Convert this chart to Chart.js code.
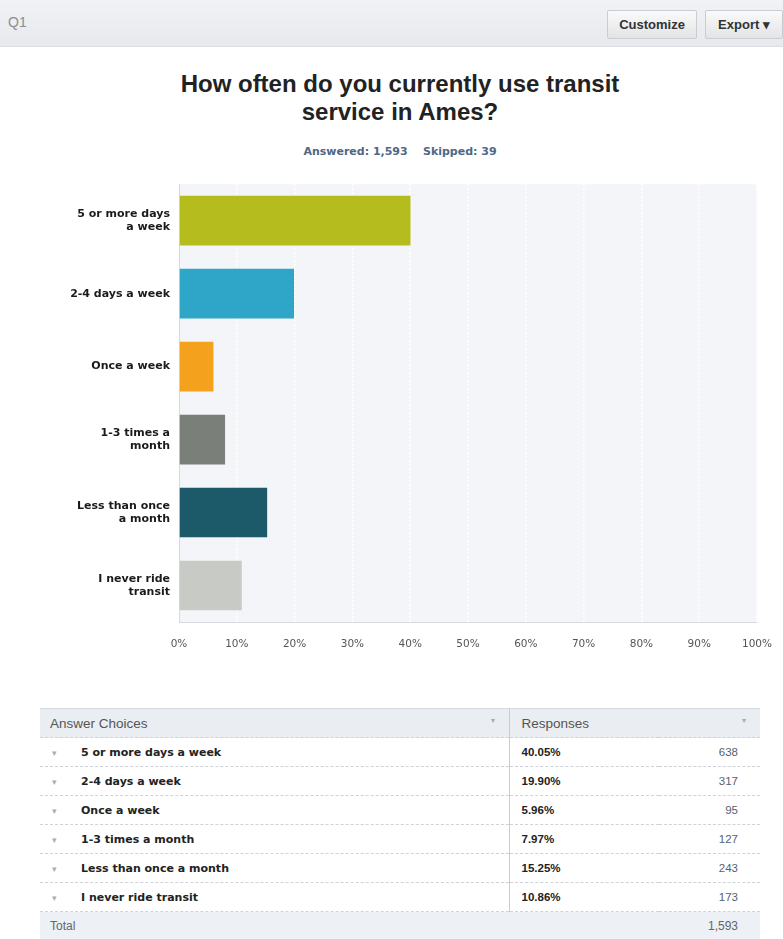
<!DOCTYPE html>
<html>
<head>
<meta charset="utf-8">
<script src="https://cdn.jsdelivr.net/npm/chart.js@4.4.1/dist/chart.umd.min.js"></script>
<style>
  body { margin: 0; width: 783px; height: 939px; background: #fff; font-family: "Liberation Sans", Arial, sans-serif; position: relative; overflow: hidden; }
  .topbar { position: absolute; left: 0; top: 0; width: 783px; height: 46px; background: linear-gradient(#f1f2f5, #e7e9ed); border-bottom: 1px solid #dcdfe4; }
  .q { position: absolute; left: 8px; top: 14px; font-size: 14px; color: #8a8d93; }
  .btn { position: absolute; top: 10px; height: 27px; line-height: 27px; font-size: 13px; font-weight: bold; color: #333; text-align: center; background: linear-gradient(#fafafa, #e3e4e6); border: 1px solid #c9ccd1; border-radius: 2px; }
  .title { position: absolute; left: 0; width: 800px; top: 70px; text-align: center; font-size: 24px; font-weight: bold; color: #222; line-height: 28px; }
  .sub { position: absolute; left: 0; width: 800px; top: 145px; text-align: center; font-family: "DejaVu Sans", Verdana, sans-serif; font-size: 11px; font-weight: bold; color: #4f6785; }
  #wrap { position: absolute; left: 0; top: 170px; width: 783px; height: 490px; }
  table { position: absolute; left: 40px; top: 708px; width: 720px; border-collapse: collapse; table-layout: fixed; font-size: 11.5px; }
  td { height: 28px; padding: 0; border-bottom: 1px dashed #cfd3d9; white-space: nowrap; }
  tr.head td { background: #eaedf2; color: #555; font-size: 13.5px; font-weight: normal; border-top: 1px solid #d5d9df; }
  tr.total td { background: #edf0f5; color: #666; font-size: 12px; border-bottom: none; height: 28px; }
  td.c1 { border-right: 1px solid #c9cdd3; }
  .arr { display: inline-block; width: 41px; padding-left: 12px; box-sizing: border-box; color: #a8adb5; font-size: 9px; }
  .lbl { font-family: "DejaVu Sans", Verdana, sans-serif; font-size: 11px; font-weight: bold; color: #222; }
  .pct { font-weight: bold; color: #222; padding-left: 12px; }
  .cnt { text-align: right; padding-right: 22px; color: #556270; }
  .dd { float: right; color: #aaa; font-size: 8px; padding-right: 14px; }
</style>
</head>
<body>
<div class="topbar">
  <div class="q">Q1</div>
  <div class="btn" style="left:607px;width:88px;">Customize</div>
  <div class="btn" style="left:705px;width:76px;">Export &#9662;</div>
</div>
<div class="title">How often do you currently use transit<br>service in Ames?</div>
<div class="sub">Answered: 1,593&nbsp;&nbsp;&nbsp;&nbsp;Skipped: 39</div>
<div id="wrap"><canvas id="chart"></canvas></div>
<table id="tbl"><colgroup><col style="width:469px"><col style="width:150px"><col style="width:101px"></colgroup></table>
<script>
// answer choices as they appear in the table
const choices = ['5 or more days a week', '2-4 days a week', 'Once a week', '1-3 times a month', 'Less than once a month', 'I never ride transit'];
// same choices wrapped like the axis labels
const axisLabels = [['5 or more days', 'a week'], '2-4 days a week', 'Once a week', ['1-3 times a', 'month'], ['Less than once', 'a month'], ['I never ride', 'transit']];
const percents = [40.05, 19.90, 5.96, 7.97, 15.25, 10.86];
const counts = [638, 317, 95, 127, 243, 173];
const total = 1593;
const xTicks = [0, 10, 20, 30, 40, 50, 60, 70, 80, 90, 100];

const barColors = ['#b5bd1e', '#2fa6c7', '#f4a11e', '#7a7f79', '#1c5969', '#c8cbc5'];

// light plot background like the survey tool
const plotBg = {
  id: 'plotBg',
  beforeDraw(chart) {
    const a = chart.chartArea;
    const c = chart.ctx;
    c.save();
    c.fillStyle = '#f3f5f9';
    c.fillRect(a.left, a.top, a.right - a.left, a.bottom - a.top);
    c.restore();
  }
};

const ctx = document.getElementById('chart').getContext('2d');
new Chart(ctx, {
  type: 'bar',
  data: {
    labels: axisLabels,
    datasets: [{
      data: percents,
      backgroundColor: barColors,
      barPercentage: 0.68,
      categoryPercentage: 1
    }]
  },
  options: {
    indexAxis: 'y',
    responsive: true,
    maintainAspectRatio: false,
    animation: false,
    layout: { padding: { top: 5, right: 26, left: 0, bottom: 0 } },
    plugins: { legend: { display: false }, tooltip: { enabled: false } },
    scales: {
      x: {
        min: 0, max: 100,
        afterBuildTicks: s => { s.ticks = xTicks.map(v => ({ value: v })); },
        afterFit: s => { s.height = 38; s.paddingRight = 4; },
        grid: { color: '#ffffff', lineWidth: 1.5, drawTicks: false },
        border: { display: true, color: '#d6dae0', dash: [2, 2] },
        ticks: { padding: 16, color: '#555', font: { family: 'DejaVu Sans', size: 10.5 }, callback: v => v + '%' }
      },
      y: {
        afterFit: s => { s.width = 179; },
        grid: { display: false },
        border: { display: true, color: '#d6dae0', dash: [2, 2] },
        ticks: { padding: 1, color: '#1a1a1a', font: { family: 'DejaVu Sans', size: 11, weight: 'bold' } }
      }
    }
  },
  plugins: [plotBg]
});

// summary table below the chart
const tbl = document.getElementById('tbl');
let html = '<tr class="head"><td class="c1" style="padding-left:10px">Answer Choices<span class="dd">&#9662;</span></td>' +
  '<td colspan="2" style="padding-left:12px">Responses<span class="dd">&#9662;</span></td></tr>';
choices.forEach((c, i) => {
  html += '<tr><td class="c1"><span class="arr">&#9662;</span><span class="lbl">' + c + '</span></td>' +
    '<td class="pct">' + percents[i].toFixed(2) + '%</td>' +
    '<td class="cnt">' + counts[i] + '</td></tr>';
});
html += '<tr class="total"><td style="padding-left:10px">Total</td><td></td><td class="cnt">' + total.toLocaleString('en-US') + '</td></tr>';
tbl.insertAdjacentHTML('beforeend', html);
</script>
</body>
</html>
